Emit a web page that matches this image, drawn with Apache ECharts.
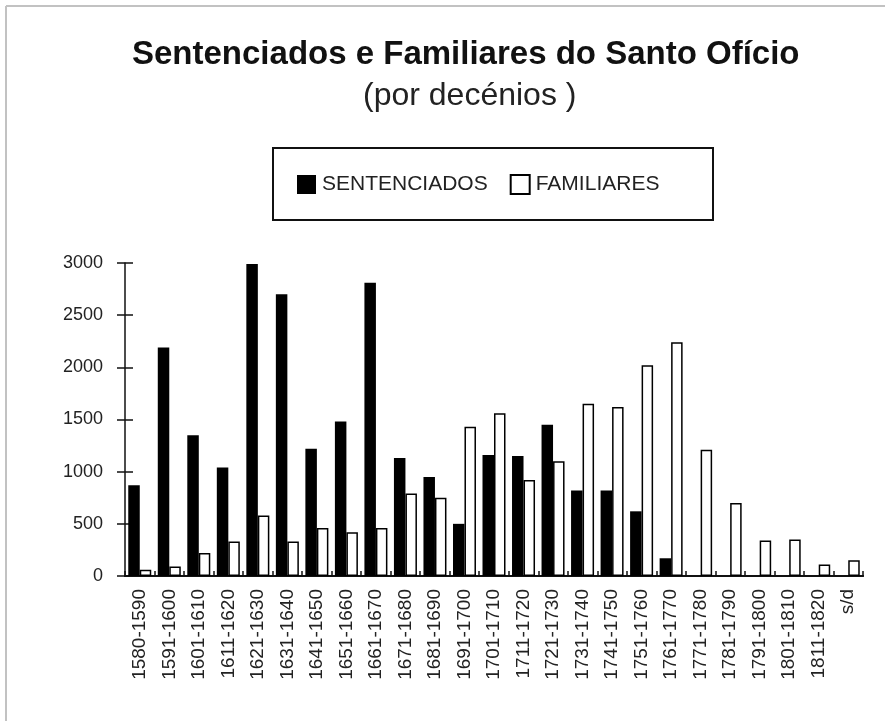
<!DOCTYPE html>
<html>
<head>
<meta charset="utf-8">
<script src="https://cdn.jsdelivr.net/npm/echarts@6/dist/echarts.min.js"></script>
<style>
  html, body { margin: 0; padding: 0; background: #fff; }
  #main { width: 885px; height: 721px; }
</style>
</head>
<body>
<div id="main"></div>
<script>
// decenios
var decadas = ['1580-1590', '1591-1600', '1601-1610', '1611-1620', '1621-1630', '1631-1640',
    '1641-1650', '1651-1660', '1661-1670', '1671-1680', '1681-1690', '1691-1700', '1701-1710',
    '1711-1720', '1721-1730', '1731-1740', '1741-1750', '1751-1760', '1761-1770', '1771-1780',
    '1781-1790', '1791-1800', '1801-1810', '1811-1820', 's/d'];
var sentenciados = [870, 2190, 1350, 1040, 2990, 2700, 1220, 1480, 2810, 1130, 950, 500, 1160,
    1150, 1450, 820, 820, 620, 170, 0, 0, 0, 0, 0, 0];
var familiares = [60, 90, 220, 330, 580, 330, 460, 420, 460, 790, 750, 1430, 1560,
    920, 1100, 1650, 1620, 2020, 2240, 1210, 700, 340, 350, 110, 150];
var yTicks = { min: 0, max: 3000, interval: 500 };

var fonte = '"Liberation Sans", Arial, sans-serif';
var myChart = echarts.init(document.getElementById('main'));

var option = {
    backgroundColor: '#fff',
    animation: false,
    title: [{
        text: 'Sentenciados e Familiares do Santo Ofício',
        left: 127,
        top: 33,
        textStyle: { fontFamily: fonte, fontSize: 33, fontWeight: 'bold', color: '#111' }
    }, {
        text: '(por decénios )',
        left: 358,
        top: 75,
        textStyle: { fontFamily: fonte, fontSize: 32, fontWeight: 'normal', color: '#222' }
    }],
    legend: {
        left: 292,
        top: 169,
        itemWidth: 19,
        itemHeight: 19,
        itemGap: 22,
        icon: 'rect',
        textStyle: { fontFamily: fonte, fontSize: 21, color: '#222', padding: [0, 0, 0, 1] },
        data: ['SENTENCIADOS', 'FAMILIARES']
    },
    graphic: [
        // moldura da folha
        { type: 'line', shape: { x1: 6, y1: 6, x2: 885, y2: 6 }, style: { stroke: '#c2c2c2', lineWidth: 2 } },
        { type: 'line', shape: { x1: 6, y1: 6, x2: 6, y2: 721 }, style: { stroke: '#c2c2c2', lineWidth: 2 } },
        // caixa da legenda
        { type: 'rect', shape: { x: 273, y: 148, width: 440, height: 72 },
          style: { fill: 'none', stroke: '#111', lineWidth: 2 } }
    ],
    grid: { left: 125, right: 22, top: 263, bottom: 145 },
    xAxis: [{
        type: 'category',
        data: decadas,
        axisLine: { lineStyle: { color: '#111', width: 2 } },
        axisTick: { length: 7, interval: 0, lineStyle: { color: '#111', width: 1.5 } },
        axisLabel: { rotate: 90, margin: 13, fontFamily: fonte, fontSize: 19, color: '#222', interval: 0 }
    }, {
        type: 'category',
        data: decadas,
        position: 'bottom',
        axisLine: { show: true, lineStyle: { color: '#111', width: 2 } },
        axisTick: { show: true, inside: true, interval: 0, length: 5, lineStyle: { color: '#111', width: 1.5 } },
        axisLabel: { show: false }
    }],
    yAxis: [{
        // deslocado 8px para dentro: os tracos de 16px cruzam a linha do eixo
        type: 'value',
        offset: -8,
        min: yTicks.min,
        max: yTicks.max,
        interval: yTicks.interval,
        axisLine: { show: false },
        axisTick: { show: true, length: 16, lineStyle: { color: '#111', width: 1.5 } },
        splitLine: { show: false },
        axisLabel: {
            margin: 30, fontFamily: fonte, fontSize: 18, color: '#222',
            formatter: function (v) { return String(v); }
        }
    }, {
        type: 'value',
        position: 'left',
        min: yTicks.min,
        max: yTicks.max,
        interval: yTicks.interval,
        axisLine: { show: true, lineStyle: { color: '#111', width: 1.5 } },
        axisTick: { show: false },
        splitLine: { show: false },
        axisLabel: { show: false }
    }],
    series: [{
        name: 'SENTENCIADOS',
        type: 'bar',
        data: sentenciados,
        barWidth: 11.5,
        barGap: '0%',
        itemStyle: { color: '#000' }
    }, {
        name: 'FAMILIARES',
        type: 'bar',
        yAxisIndex: 1,
        data: familiares,
        barWidth: 11.5,
        barGap: '0%',
        itemStyle: { color: '#fff', borderColor: '#000', borderWidth: 1.5 }
    }]
};
myChart.setOption(option);
</script>
</body>
</html>
